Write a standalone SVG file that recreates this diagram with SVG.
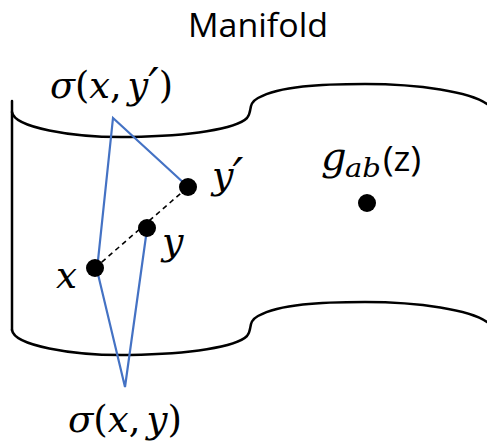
<svg xmlns="http://www.w3.org/2000/svg" width="487" height="441" viewBox="0 0 487 441">
  <style>
    .outline { fill: none; stroke: #000; stroke-width: 2.5; stroke-linecap: round; stroke-linejoin: round; }
    .blue { fill: none; stroke: #4472C4; stroke-width: 2.2; stroke-linejoin: miter; }
    .dash { fill: none; stroke: #000; stroke-width: 1.6; stroke-dasharray: 5 4; }
    .dot { fill: #000; }
    .title { font-family: "Open Sans", "Liberation Sans", sans-serif; font-size: 33px; fill: #000; }
    .math { font-family: "DejaVu Serif", "Liberation Serif", serif; font-size: 38px; fill: #000; }
    .it { font-style: italic; }
    .up { font-style: normal; }
    .prime { font-family: "DejaVu Sans", sans-serif; font-style: italic; font-size: 48px; }
  </style>
  <rect width="487" height="441" fill="#fff"/>

  <g id="title">
    <text class="title" x="258" y="37" text-anchor="middle" textLength="140" lengthAdjust="spacingAndGlyphs">Manifold</text>
  </g>

  <g id="manifold">
    <path class="outline" d="M12,101 L12,330"/>
    <path class="outline" d="M12,112 C14,127 70,138 130,137 C190,136 236,129 247,118 C253,111 247,104 258,98 C280,86 320,84 365,84 C420,84 470,92 487,104"/>
    <path class="outline" d="M12,330 C14,345 70,356 130,355 C190,354 236,347 247,336 C253,329 247,322 258,316 C280,304 320,302 365,302 C420,302 470,310 487,322"/>
  </g>

  <g id="connectors">
    <line class="dash" x1="95" y1="268" x2="188" y2="187"/>
    <polyline class="blue" points="186,185 113,118 97,270 125,387 147,229"/>
  </g>

  <g id="node-x">
    <circle class="dot" cx="95" cy="268" r="9"/>
    <text class="math it" x="56" y="288" textLength="21" lengthAdjust="spacingAndGlyphs">x</text>
  </g>
  <g id="node-y">
    <circle class="dot" cx="147" cy="228" r="9"/>
    <text class="math it" x="162" y="254">y</text>
  </g>
  <g id="node-yprime">
    <circle class="dot" cx="188" cy="187" r="9"/>
    <text class="math" x="212" y="188"><tspan class="it">y</tspan><tspan class="prime" dx="-1" dy="4">′</tspan></text>
  </g>
  <g id="node-z">
    <circle class="dot" cx="367" cy="203" r="9"/>
    <text class="math it" x="321" y="170" style="font-size:40px">g</text>
    <text class="math it" x="345" y="177" style="font-size:26px" textLength="36" lengthAdjust="spacingAndGlyphs">ab</text>
    <text class="title" x="383" y="171" style="font-size:34px" textLength="38" lengthAdjust="spacingAndGlyphs">(z)</text>
  </g>
  <g id="label-sigma-xyprime">
    <text class="math" x="50" y="98" textLength="123" lengthAdjust="spacingAndGlyphs"><tspan class="it">σ</tspan><tspan class="up">(</tspan><tspan class="it">x</tspan><tspan class="up">,</tspan><tspan class="it" dx="6">y</tspan><tspan class="prime" dy="4">′</tspan><tspan class="up" dy="-4">)</tspan></text>
  </g>
  <g id="label-sigma-xy">
    <text class="math" x="68" y="432" textLength="114" lengthAdjust="spacingAndGlyphs"><tspan class="it">σ</tspan><tspan class="up">(</tspan><tspan class="it">x</tspan><tspan class="up">,</tspan><tspan class="it" dx="6">y</tspan><tspan class="up">)</tspan></text>
  </g>
</svg>
